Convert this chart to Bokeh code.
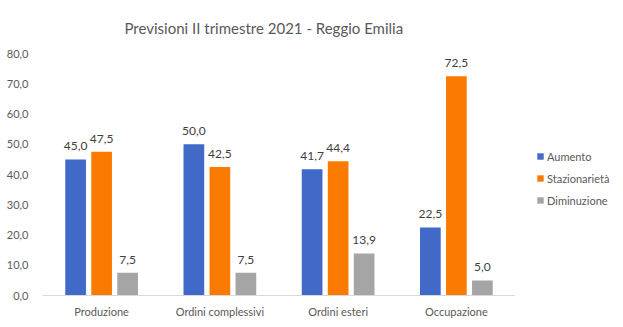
from bokeh.plotting import figure
from bokeh.layouts import row
from bokeh.models import ColumnDataSource, FactorRange, Legend, LegendItem, FixedTicker, Range1d
from bokeh.transform import dodge
from bokeh.core.properties import value
from bokeh.embed import file_html
from bokeh.resources import INLINE

categories = ["Produzione", "Ordini complessivi", "Ordini esteri", "Occupazione"]
aumento = [45.0, 50.0, 41.7, 22.5]
stazionarieta = [47.5, 42.5, 44.4, 72.5]
diminuzione = [7.5, 7.5, 13.9, 5.0]
series_names = ["Aumento", "Stazionarietà", "Diminuzione"]
y_ticks = [0, 10, 20, 30, 40, 50, 60, 70, 80]

colors = ["#4169C7", "#FA7B00", "#A5A5A5"]
FONT = "Lato"

def fmt(v):
    return f"{v:.1f}".replace(".", ",")

src = ColumnDataSource(dict(
    cat=categories,
    a=aumento, s=stazionarieta, d=diminuzione,
    a_lbl=[fmt(v) for v in aumento],
    s_lbl=[fmt(v) for v in stazionarieta],
    d_lbl=[fmt(v) for v in diminuzione],
))

p = figure(width=515, height=327, output_backend="svg", toolbar_location=None,
           x_range=FactorRange(factors=categories, range_padding=0),
           y_range=Range1d(0, 80),
           min_border_left=42, min_border_right=0, min_border_top=52, min_border_bottom=32)
p.title.text = "Previsioni II trimestre 2021 - Reggio Emilia"
p.title.align = "left"
p.title.offset = 82
p.title.standoff = 33
p.title.text_font = FONT
p.title.text_font_size = "15px"
p.title.text_font_style = "normal"
p.title.text_color = "#595959"

offsets = [-0.22, 0.0, 0.22]
cols = ["a", "s", "d"]
renderers = []
for off, c, col in zip(offsets, cols, colors):
    r = p.vbar(x=dodge("cat", off, range=p.x_range), top=c, width=0.175, source=src,
               color=col, line_color=None)
    renderers.append(r)
    p.text(x=dodge("cat", off, range=p.x_range), y=c, text=c + "_lbl", source=src,
           text_align="center", text_baseline="bottom", y_offset=-9,
           text_font=value(FONT), text_font_size="12px", text_color="#404040")

p.xgrid.visible = False
p.ygrid.visible = False
p.outline_line_color = None

p.yaxis.ticker = FixedTicker(ticks=y_ticks)
p.yaxis.major_label_overrides = {t: fmt(t) for t in y_ticks}
p.yaxis.axis_line_color = None
p.yaxis.major_tick_line_color = None
p.yaxis.minor_tick_line_color = None
p.yaxis.major_tick_out = 0
p.yaxis.major_tick_in = 0
p.yaxis.major_label_text_font = FONT
p.yaxis.major_label_text_font_size = "11px"
p.yaxis.major_label_text_color = "#595959"
p.yaxis.major_label_standoff = 14

p.xaxis.axis_line_color = "#D9D9D9"
p.xaxis.major_tick_line_color = None
p.xaxis.minor_tick_line_color = None
p.xaxis.major_tick_out = 0
p.xaxis.major_tick_in = 0
p.xaxis.major_label_text_font = FONT
p.xaxis.major_label_text_font_size = "11px"
p.xaxis.major_label_text_color = "#595959"
p.xaxis.major_label_standoff = 9

# legend panel: a second figure carrying zero-height proxy renderers
lg = figure(width=108, height=327, output_backend="svg", toolbar_location=None,
            x_range=Range1d(0, 1), y_range=Range1d(0, 1),
            min_border_left=0, min_border_right=0, min_border_top=0, min_border_bottom=0)
lg.axis.visible = False
lg.grid.visible = False
lg.outline_line_color = None
proxies = [lg.vbar(x=[0], top=[0], bottom=[0], width=0, color=col, line_color=None)
           for col in colors]
legend = Legend(items=[LegendItem(label=n, renderers=[r]) for n, r in zip(series_names, proxies)],
                location=(21, 88), border_line_color=None, background_fill_alpha=0,
                glyph_width=8, glyph_height=8, label_height=14, label_text_font=FONT,
                label_text_font_size="11px", label_text_color="#595959",
                spacing=8, margin=0, padding=0, label_standoff=3)
lg.add_layout(legend)

layout = row(p, lg)
open("out.html", "w").write(file_html(layout, INLINE))
